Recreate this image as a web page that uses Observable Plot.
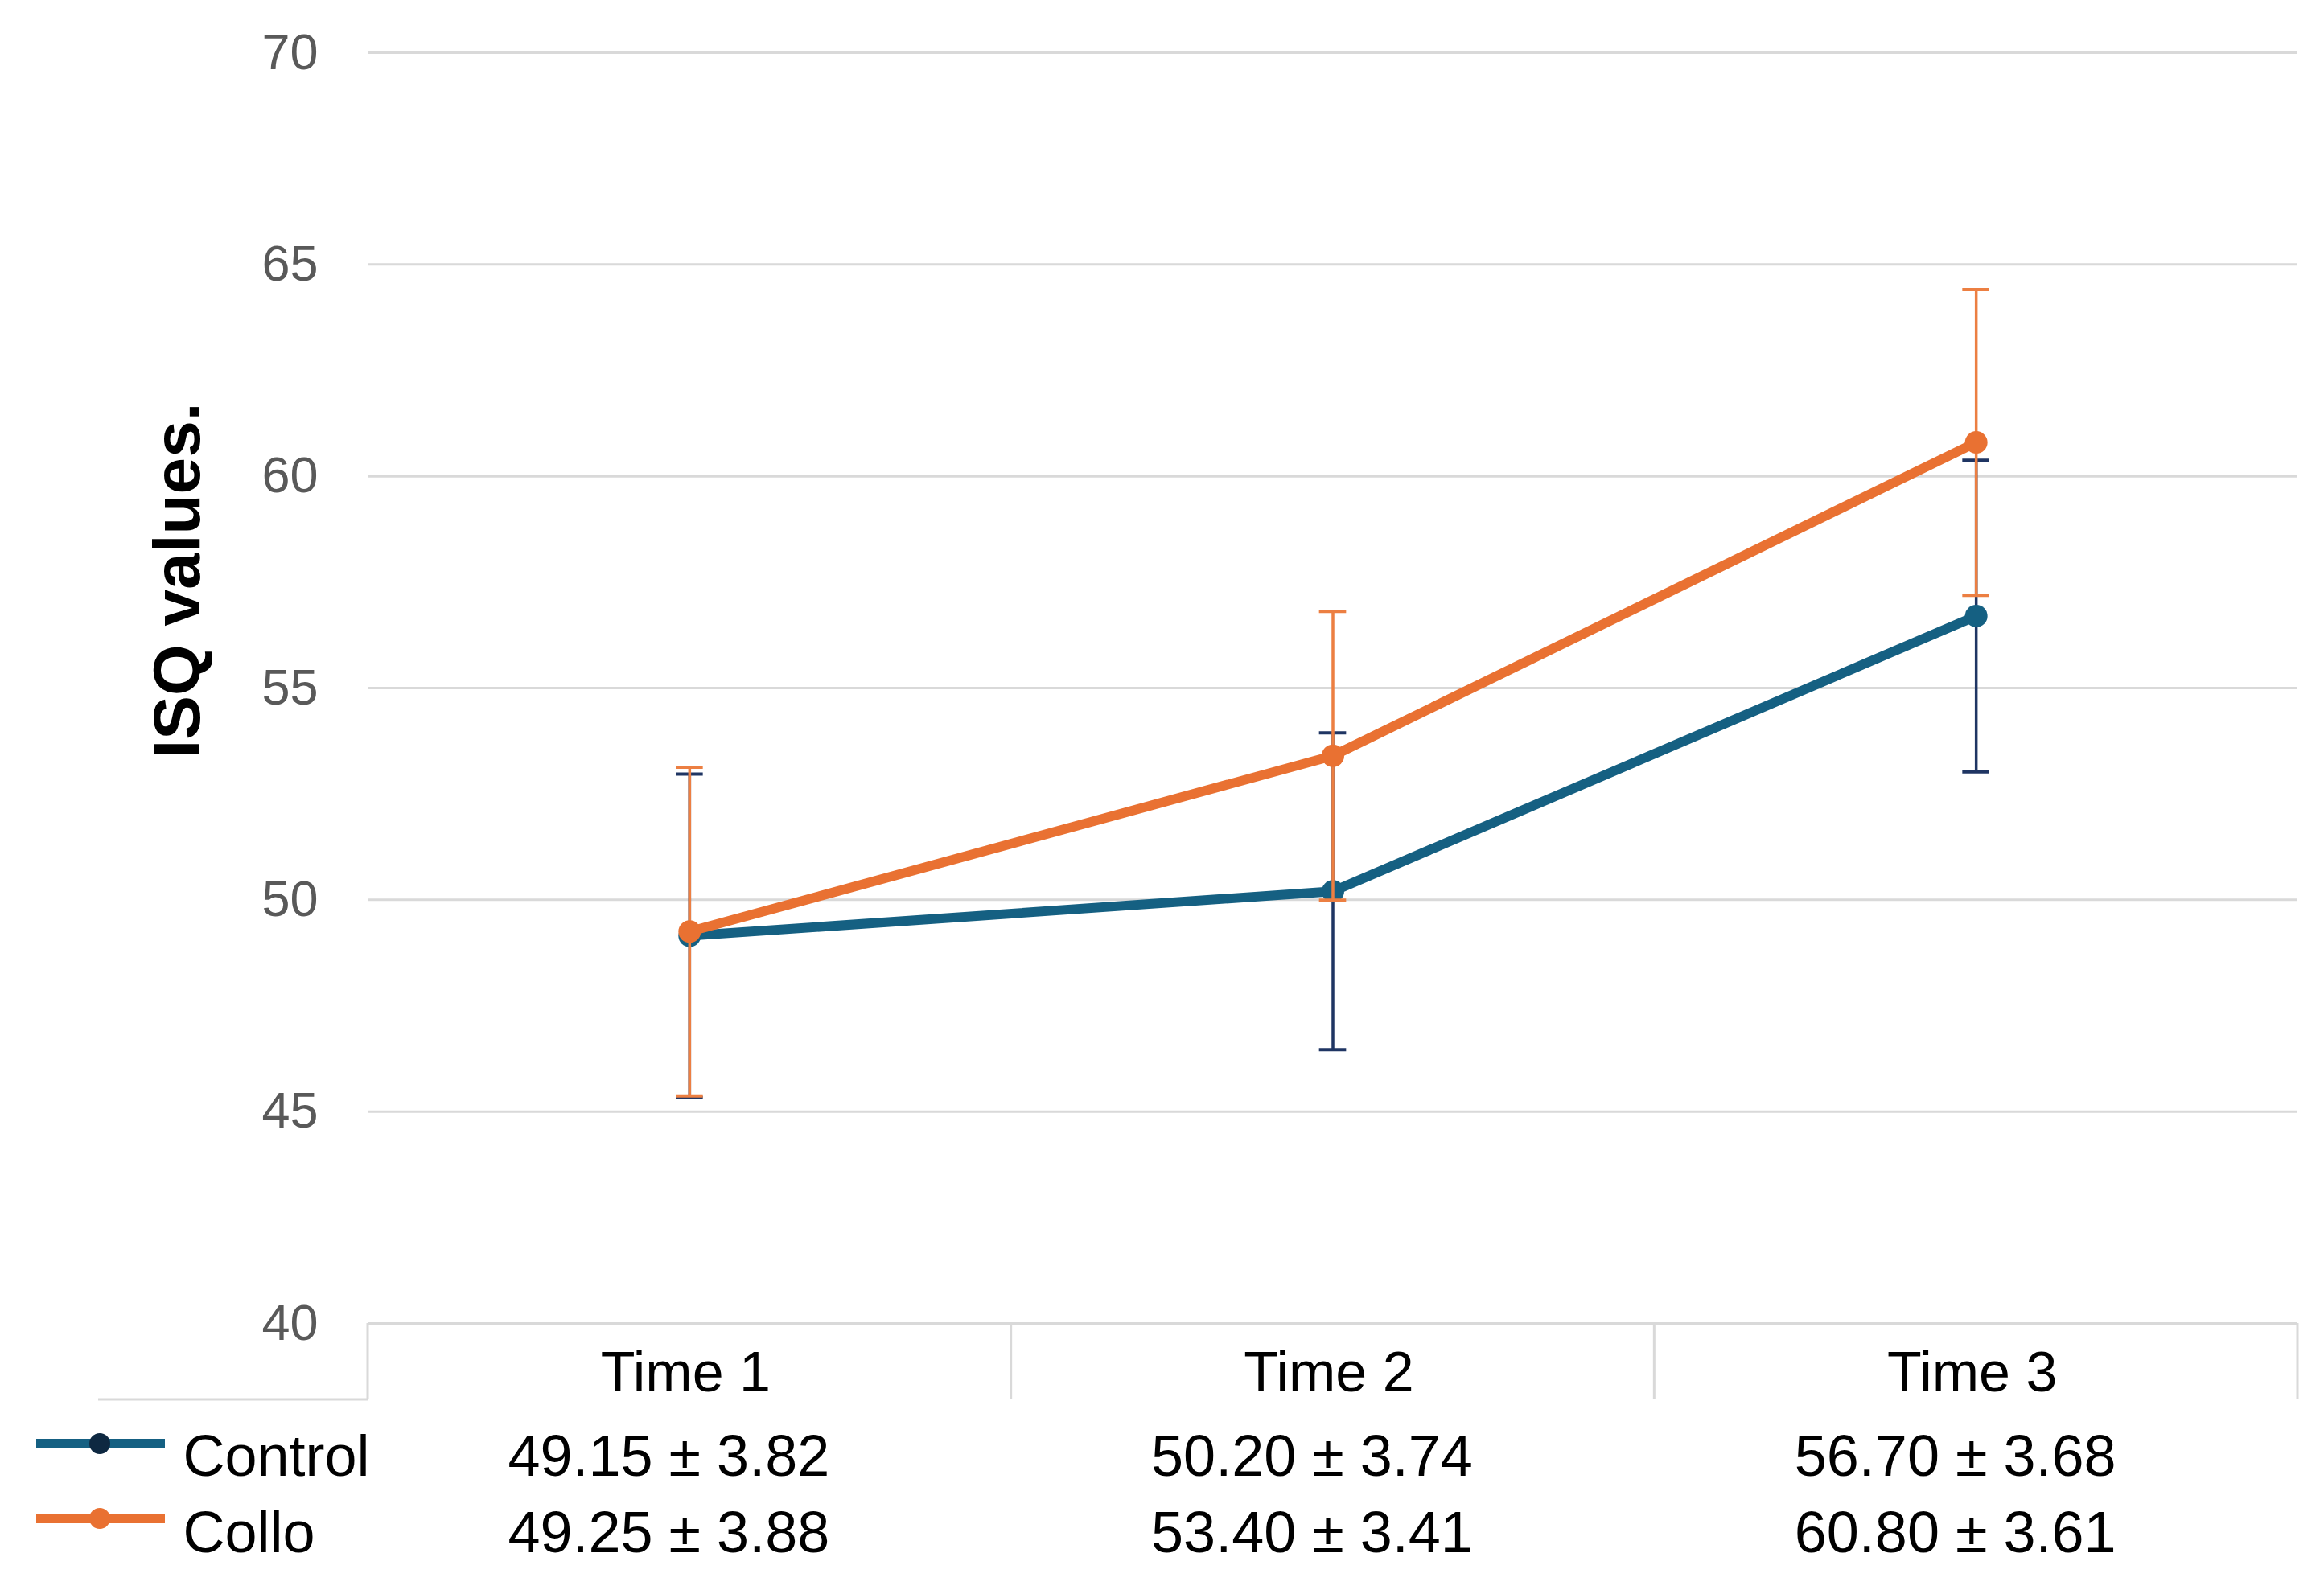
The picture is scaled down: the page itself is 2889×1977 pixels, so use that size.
<!DOCTYPE html>
<html>
<head>
<meta charset="utf-8">
<script src="https://cdn.jsdelivr.net/npm/d3@7"></script>
<script src="https://cdn.jsdelivr.net/npm/@observablehq/plot@0.6"></script>
<style>
  html, body { margin: 0; padding: 0; background: #fff; overflow: hidden; }
</style>
</head>
<body>
<div id="chart"></div>
<script>
// ---- data ----
const times = ["Time 1", "Time 2", "Time 3"];
const groups = ["Control", "Collo"];
const controlMean = [49.15, 50.20, 56.70];
const controlSD   = [3.82, 3.74, 3.68];
const colloMean   = [49.25, 53.40, 60.80];
const colloSD     = [3.88, 3.41, 3.61];
const yTicks = [40, 45, 50, 55, 60, 65, 70];
const yTitle = "ISQ values.";

// ---- styles ----
const lineColor = {Control: "#156082", Collo: "#E97132"};
const errColor  = {Control: "#1f3563", Collo: "#EC7F42"};
const legendMarker = {Control: "#0e2841", Collo: "#E97132"};
const font = "'Liberation Sans', Arial, Helvetica, sans-serif";

const series = {
  Control: times.map((t, i) => ({group: "Control", time: t, mean: controlMean[i], sd: controlSD[i]})),
  Collo:   times.map((t, i) => ({group: "Collo",   time: t, mean: colloMean[i],   sd: colloSD[i]}))
};
const fmt = d => `${d.mean.toFixed(2)} ± ${d.sd.toFixed(2)}`;

const capInset = 383;
const seriesMarks = g => [
  Plot.ruleX(series[g], {x: "time", y1: d => d.mean - d.sd, y2: d => d.mean + d.sd, stroke: errColor[g], strokeWidth: 3.5}),
  Plot.tickY(series[g], {x: "time", y: d => d.mean + d.sd, insetLeft: capInset, insetRight: capInset, stroke: errColor[g], strokeWidth: 4}),
  Plot.tickY(series[g], {x: "time", y: d => d.mean - d.sd, insetLeft: capInset, insetRight: capInset, stroke: errColor[g], strokeWidth: 4}),
  Plot.line(series[g], {x: "time", y: "mean", stroke: lineColor[g], strokeWidth: 12}),
  Plot.dot(series[g], {x: "time", y: "mean", r: 14, fill: lineColor[g], stroke: "none"})
];

const textOpts = {fill: "#000", fontFamily: font, lineAnchor: "middle"};

const chart = Plot.plot({
  width: 2889,
  height: 1977,
  marginLeft: 457,
  marginRight: 33,
  marginTop: 65,
  marginBottom: 332,
  x: {type: "band", domain: times, padding: 0, round: false, axis: null},
  y: {domain: [40, 70], ticks: yTicks, tickSize: 0, tickPadding: 62, label: null, tickFormat: d => String(d)},
  style: {fontFamily: font, fontSize: "63px", color: "#595959", background: "#fff", overflow: "visible"},
  marks: [
    Plot.ruleY(yTicks, {stroke: "#d9d9d9", strokeWidth: 3}),
    ...seriesMarks("Control"),
    ...seriesMarks("Collo"),
    // y title
    Plot.text([yTitle], {...textOpts, text: d => d, frameAnchor: "left", textAnchor: "middle", rotate: -90,
      dx: -236, dy: -134, fontSize: 82, fontWeight: "bold"}),
    // table header
    Plot.text(times, {...textOpts, x: d => d, text: d => d, frameAnchor: "bottom", textAnchor: "middle",
      dy: 62, dx: -5, fontSize: 70}),
    // table rows
    Plot.text(series.Control, {...textOpts, x: "time", text: fmt, frameAnchor: "bottom", textAnchor: "middle",
      dy: 166, dx: -26, fontSize: 72}),
    Plot.text(series.Collo, {...textOpts, x: "time", text: fmt, frameAnchor: "bottom", textAnchor: "middle",
      dy: 261, dx: -26, fontSize: 72}),
    Plot.text([groups[0]], {...textOpts, text: d => d, frameAnchor: "bottom-left", textAnchor: "start",
      dx: -230, dy: 166, fontSize: 72}),
    Plot.text([groups[1]], {...textOpts, text: d => d, frameAnchor: "bottom-left", textAnchor: "start",
      dx: -230, dy: 261, fontSize: 72})
  ]
});

document.getElementById("chart").appendChild(chart);

// ---- table borders & legend keys (positioned from the chart's scales) ----
const svg = d3.select(chart);
const xs = chart.scale("x");
const ys = chart.scale("y");
const yTop = ys.apply(40);
const yHeadBottom = yTop + 95;
const edges = times.map(t => xs.apply(t)).concat([xs.apply(times[times.length - 1]) + xs.bandwidth]);
const borders = svg.append("g").attr("stroke", "#d9d9d9").attr("stroke-width", 3).attr("fill", "none");
edges.forEach(x => borders.append("line").attr("x1", x).attr("x2", x).attr("y1", yTop).attr("y2", yHeadBottom));
borders.append("line").attr("x1", 122).attr("x2", edges[0]).attr("y1", yHeadBottom).attr("y2", yHeadBottom);

const keyY = {Control: yTop + 150, Collo: yTop + 243};
const keys = svg.append("g");
groups.forEach(g => {
  keys.append("line").attr("x1", 45).attr("x2", 205).attr("y1", keyY[g]).attr("y2", keyY[g])
    .attr("stroke", lineColor[g]).attr("stroke-width", 12);
  keys.append("circle").attr("cx", 124).attr("cy", keyY[g]).attr("r", 13).attr("fill", legendMarker[g]);
});
</script>
</body>
</html>
